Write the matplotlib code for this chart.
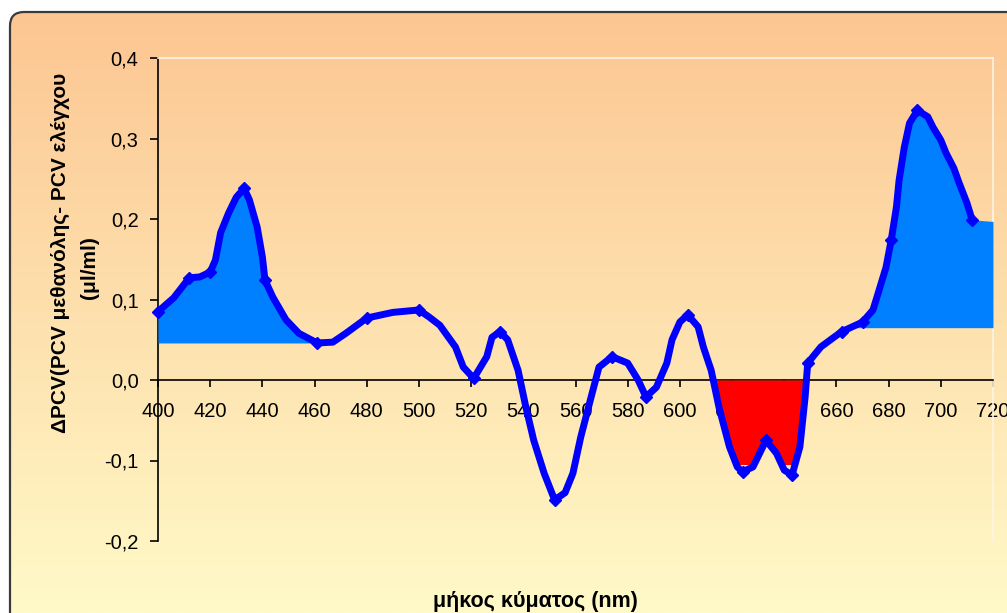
import numpy as np
import matplotlib
matplotlib.use('Agg')
import matplotlib.pyplot as plt
from matplotlib.patches import FancyBboxPatch
from matplotlib.ticker import FuncFormatter

# wavelength (nm) and difference values
wl = np.array([400, 406, 412, 416, 420, 422, 424, 427, 430, 433, 435, 438, 440, 441, 444,
               449, 454, 461, 467, 472, 480, 490, 500, 504, 508, 514, 517, 521, 526, 528,
               531, 534, 538, 541, 544, 548, 552, 556, 559, 562, 566, 569, 574, 580, 584,
               587, 591, 595, 597, 600, 603, 607, 609, 612, 615, 619, 622, 624, 628, 633,
               637, 640, 643, 646, 648, 649, 654, 659, 662, 670, 674, 676, 679, 681, 683,
               684, 686, 688, 691, 695, 697, 700, 702, 705, 707, 710, 712])
dv = np.array([0.085, 0.102, 0.127, 0.128, 0.134, 0.149, 0.183, 0.207, 0.227, 0.238, 0.224,
               0.190, 0.153, 0.124, 0.103, 0.075, 0.058, 0.046, 0.047, 0.058, 0.077, 0.084,
               0.087, 0.078, 0.068, 0.041, 0.016, 0.002, 0.029, 0.053, 0.060, 0.050, 0.012,
               -0.034, -0.075, -0.116, -0.149, -0.140, -0.116, -0.071, -0.021, 0.016, 0.029,
               0.021, 0.000, -0.021, -0.009, 0.021, 0.050, 0.072, 0.081, 0.066, 0.041, 0.012,
               -0.034, -0.083, -0.108, -0.114, -0.108, -0.075, -0.091, -0.112, -0.118, -0.083,
               -0.021, 0.021, 0.041, 0.053, 0.060, 0.072, 0.087, 0.108, 0.140, 0.174, 0.215,
               0.248, 0.289, 0.319, 0.335, 0.327, 0.314, 0.298, 0.282, 0.263, 0.245, 0.220,
               0.199])
# points where the marker glyphs are visible
marker_wl = [400, 412, 420, 433, 441, 461, 480, 500, 521, 531, 552, 574, 587, 603, 624,
             633, 643, 649, 662, 670, 681, 691, 712]

left_base = 0.046
right_base = 0.065
right_end = 0.197
red_floor = -0.105

xticks = list(range(400, 721, 20))
yticks = [-0.2, -0.1, 0.0, 0.1, 0.2, 0.3, 0.4]

plt.rcParams['font.family'] = ['Liberation Sans', 'DejaVu Sans']

fig = plt.figure(figsize=(10.07, 6.13), dpi=100, facecolor='white')

# background with gradient and rounded frame
bg = fig.add_axes([0, 0, 1, 1], zorder=-5)
bg.set_xlim(0, 1007)
bg.set_ylim(613, 0)
bg.axis('off')
top_c = np.array([252, 198, 146]) / 255
bot_c = np.array([255, 250, 200]) / 255
t = np.linspace(0, 1, 300)[:, None]
grad = (top_c * (1 - t) + bot_c * t)[:, None, :]
im = bg.imshow(grad, extent=(0, 1007, 613, 12), aspect='auto')
frame = FancyBboxPatch((10, 12), 1040, 640, boxstyle="round,pad=0,rounding_size=14",
                       facecolor='none', edgecolor='#3a3a3a', lw=1.6)
bg.add_patch(frame)
im.set_clip_path(frame)

ax = fig.add_axes([158 / 1007, 1 - 541 / 613, 835 / 1007, 483 / 613])
ax.set_facecolor('none')

# filled areas
ax.fill_between(wl, left_base, dv, where=(wl <= 470) & (dv >= left_base), interpolate=True,
                color='#0080ff', lw=0, zorder=3)
rx = np.append(wl[wl >= 660], 720)
ry = np.append(dv[wl >= 660], right_end)
ax.fill_between(rx, right_base, ry, where=ry >= right_base, interpolate=True,
                color='#0080ff', lw=0, zorder=3)
ax.fill_between(wl, 0, np.maximum(dv, red_floor), where=(wl >= 610) & (wl <= 652) & (dv <= 0),
                interpolate=True, color='#ff0000', lw=0, zorder=3)

mk = list(np.nonzero(np.isin(wl, marker_wl))[0])
ax.plot(wl, dv, color='#0000ff', lw=5, marker='D', ms=6.5, markevery=mk,
        solid_joinstyle='round', solid_capstyle='round', zorder=4, clip_on=False)

ax.set_xlim(400, 720)
ax.set_ylim(-0.2, 0.4)
ax.set_xticks(xticks)
ax.set_yticks(yticks)
ax.yaxis.set_major_formatter(FuncFormatter(lambda v, p: ('%.1f' % v).replace('.', ',')))

ax.spines['bottom'].set_position(('data', 0))
ax.spines['bottom'].set_color('black')
ax.spines['left'].set_color('black')
ax.spines['top'].set_color('#fff4e4')
ax.spines['right'].set_color('#fff4e4')
for s in ax.spines.values():
    s.set_linewidth(1.2)
ax.tick_params(axis='x', direction='out', length=5, width=1.2, pad=11, labelsize=14.5)
ax.tick_params(axis='y', direction='out', length=6, width=1.2, pad=8, labelsize=14.5)

fig.text(60 / 1007, 1 - 253 / 613, 'ΔPCV(PCV μεθανόλης- PCV ελέγχου', rotation=90,
         ha='center', va='center', fontsize=15, fontweight='bold')
fig.text(90 / 1007, 1 - 268 / 613, '(μl/ml)', rotation=90,
         ha='center', va='center', fontsize=15, fontweight='bold')
fig.text(535 / 1007, 1 - 602 / 613, 'μήκος κύματος (nm)', ha='center', va='center',
         fontsize=15.5, fontweight='bold')

fig.savefig('out.png', dpi=100, facecolor='white')
